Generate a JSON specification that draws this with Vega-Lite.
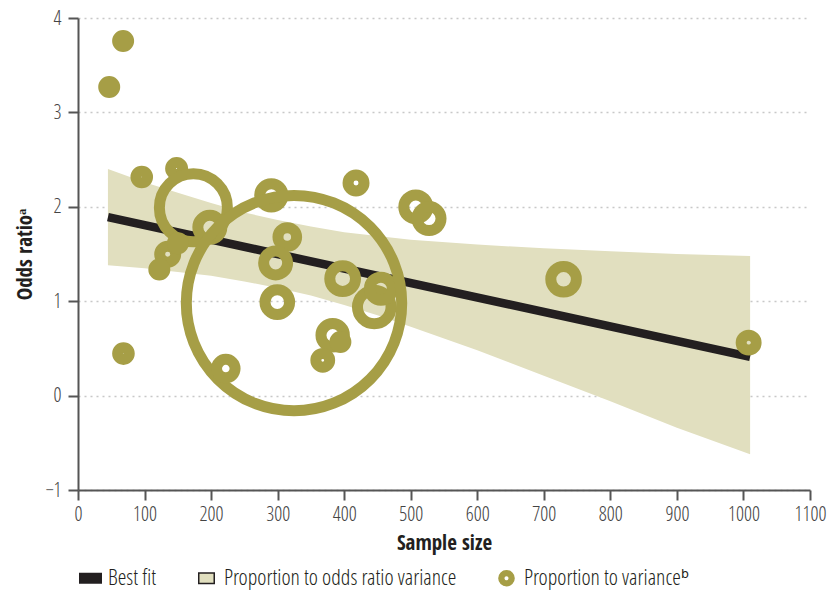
{
  "$schema": "https://vega.github.io/schema/vega-lite/v6.json",
  "width": 732,
  "height": 472,
  "autosize": {"type": "none"},
  "padding": {"left": 78, "top": 18, "right": 17, "bottom": 102},
  "background": "white",
  "config": {
    "view": {"stroke": null},
    "axis": {
      "labelFont": "Open Sans Condensed Light, DejaVu Sans Condensed",
      "labelFontSize": 20,
      "labelColor": "#444444",
      "labelFlush": false,
      "tickSize": 10,
      "tickWidth": 2,
      "tickColor": "#555555",
      "domainColor": "#555555",
      "domainWidth": 2,
      "titleFont": "Open Sans Condensed",
      "titleFontSize": 21,
      "titleFontWeight": "bold",
      "titleColor": "#231F20"
    },
    "legend": {
      "labelFont": "Open Sans Condensed Light, DejaVu Sans Condensed",
      "labelFontSize": 22,
      "labelColor": "#231F20"
    }
  },
  "datasets": {
    "band": [
      {"sample_size": 45, "lower": 1.38, "upper": 2.40},
      {"sample_size": 100, "lower": 1.35, "upper": 2.26},
      {"sample_size": 150, "lower": 1.31, "upper": 2.15},
      {"sample_size": 200, "lower": 1.27, "upper": 2.04},
      {"sample_size": 250, "lower": 1.21, "upper": 1.94},
      {"sample_size": 300, "lower": 1.14, "upper": 1.86},
      {"sample_size": 350, "lower": 1.06, "upper": 1.79},
      {"sample_size": 400, "lower": 0.96, "upper": 1.73},
      {"sample_size": 450, "lower": 0.85, "upper": 1.69},
      {"sample_size": 500, "lower": 0.73, "upper": 1.65},
      {"sample_size": 600, "lower": 0.48, "upper": 1.60},
      {"sample_size": 700, "lower": 0.21, "upper": 1.56},
      {"sample_size": 800, "lower": -0.06, "upper": 1.53},
      {"sample_size": 900, "lower": -0.34, "upper": 1.50},
      {"sample_size": 1010, "lower": -0.62, "upper": 1.48}
    ],
    "fit": [
      {"sample_size": 45, "odds_ratio": 1.89},
      {"sample_size": 1010, "odds_ratio": 0.41}
    ],
    "studies": [
      {"sample_size": 67.8, "odds_ratio": 3.756, "weight": 0.26},
      {"sample_size": 46.9, "odds_ratio": 3.27, "weight": 0.26},
      {"sample_size": 68.3, "odds_ratio": 0.445, "weight": 0.29},
      {"sample_size": 95.8, "odds_ratio": 2.316, "weight": 0.29},
      {"sample_size": 148.2, "odds_ratio": 2.405, "weight": 0.31},
      {"sample_size": 173.4, "odds_ratio": 1.99, "weight": 9.97},
      {"sample_size": 198.1, "odds_ratio": 1.783, "weight": 1.24},
      {"sample_size": 134.8, "odds_ratio": 1.497, "weight": 0.55},
      {"sample_size": 122.2, "odds_ratio": 1.335, "weight": 0.26},
      {"sample_size": 150.2, "odds_ratio": 1.613, "weight": 0.26},
      {"sample_size": 290.5, "odds_ratio": 2.122, "weight": 1.16},
      {"sample_size": 417.8, "odds_ratio": 2.252, "weight": 0.55},
      {"sample_size": 314.5, "odds_ratio": 1.68, "weight": 0.75},
      {"sample_size": 297.0, "odds_ratio": 1.405, "weight": 1.24},
      {"sample_size": 397.7, "odds_ratio": 1.239, "weight": 1.43},
      {"sample_size": 299.5, "odds_ratio": 0.99, "weight": 1.30},
      {"sample_size": 445.2, "odds_ratio": 0.939, "weight": 2.43},
      {"sample_size": 455.2, "odds_ratio": 1.133, "weight": 1.14},
      {"sample_size": 382.7, "odds_ratio": 0.639, "weight": 1.18},
      {"sample_size": 394.3, "odds_ratio": 0.568, "weight": 0.26},
      {"sample_size": 367.8, "odds_ratio": 0.374, "weight": 0.41},
      {"sample_size": 507.6, "odds_ratio": 1.998, "weight": 1.24},
      {"sample_size": 527.5, "odds_ratio": 1.875, "weight": 1.24},
      {"sample_size": 324.6, "odds_ratio": 0.98, "weight": 100},
      {"sample_size": 222.1, "odds_ratio": 0.286, "weight": 0.74},
      {"sample_size": 1007.8, "odds_ratio": 0.561, "weight": 0.48},
      {"sample_size": 729.7, "odds_ratio": 1.232, "weight": 1.41}
    ],
    "legend_items": [
      {"series": "Best fit"},
      {"series": "Proportion to odds ratio variance"},
      {"series": "Proportion to varianceᵇ"}
    ]
  },
  "layer": [
    {
      "data": {"name": "band"},
      "mark": {"type": "area", "color": "#E1DFBF", "opacity": 1},
      "encoding": {
        "x": {
          "field": "sample_size", "type": "quantitative",
          "scale": {"domain": [0, 1100], "nice": false},
          "axis": {"title": "Sample size", "format": "d", "values": [0, 100, 200, 300, 400, 500, 600, 700, 800, 900, 1000, 1100], "grid": false, "labelPadding": 4, "titlePadding": 8}
        },
        "y": {
          "field": "lower", "type": "quantitative",
          "scale": {"domain": [-1, 4], "nice": false},
          "axis": {"title": "Odds ratioᵃ", "format": "d", "values": [-1, 0, 1, 2, 3, 4], "grid": true, "gridDash": [2, 4], "gridColor": "#c8c8c8", "gridWidth": 1.5, "labelPadding": 7, "titlePadding": 10}
        },
        "y2": {"field": "upper"}
      }
    },
    {
      "data": {"name": "fit"},
      "mark": {"type": "line", "color": "#231F20", "strokeWidth": 8.5, "strokeCap": "butt"},
      "encoding": {
        "x": {"field": "sample_size", "type": "quantitative"},
        "y": {"field": "odds_ratio", "type": "quantitative"}
      }
    },
    {
      "data": {"name": "studies"},
      "mark": {"type": "point", "shape": "circle", "filled": false, "color": "#A69E46", "strokeWidth": 11, "opacity": 1},
      "encoding": {
        "x": {"field": "sample_size", "type": "quantitative"},
        "y": {"field": "odds_ratio", "type": "quantitative"},
        "size": {"field": "weight", "type": "quantitative", "scale": {"type": "linear", "domain": [0, 100], "range": [0, 46400]}, "legend": null}
      }
    },
    {
      "data": {"name": "legend_items"},
      "mark": {"type": "point", "filled": true, "opacity": 0, "strokeWidth": 1.5},
      "encoding": {
        "fill": {
          "field": "series", "type": "nominal",
          "scale": {"domain": ["Best fit", "Proportion to odds ratio variance", "Proportion to varianceᵇ"], "range": ["#231F20", "#E1DFBF", "#A69E46"]},
          "legend": {"title": null, "orient": "none", "legendX": 0, "legendY": 547.5, "direction": "horizontal", "columns": 3, "symbolSize": 529, "symbolOpacity": 1, "symbolStrokeWidth": 1.5, "labelOffset": 5, "columnPadding": 37, "labelLimit": 500}
        },
        "stroke": {
          "field": "series", "type": "nominal",
          "scale": {"domain": ["Best fit", "Proportion to odds ratio variance", "Proportion to varianceᵇ"], "range": ["#231F20", "#231F20", "#A69E46"]},
          "legend": {"title": null, "orient": "none", "legendX": 0, "legendY": 547.5, "direction": "horizontal", "columns": 3, "symbolSize": 529, "symbolOpacity": 1, "symbolStrokeWidth": 1.5, "labelOffset": 5, "columnPadding": 37, "labelLimit": 500}
        },
        "shape": {
          "field": "series", "type": "nominal",
          "scale": {"domain": ["Best fit", "Proportion to odds ratio variance", "Proportion to varianceᵇ"], "range": ["M-0.935,-0.413H0.935V0.413H-0.935Z", "M-0.674,-0.457H0.674V0.457H-0.674Z", "M0.657,0A0.657,0.657 0 1,1 -0.657,0A0.657,0.657 0 1,1 0.657,0ZM0.239,0A0.239,0.239 0 1,0 -0.239,0A0.239,0.239 0 1,0 0.239,0Z"]},
          "legend": {"title": null, "orient": "none", "legendX": 0, "legendY": 547.5, "direction": "horizontal", "columns": 3, "symbolSize": 529, "symbolOpacity": 1, "symbolStrokeWidth": 1.5, "labelOffset": 5, "columnPadding": 37, "labelLimit": 500}
        }
      }
    }
  ]
}
